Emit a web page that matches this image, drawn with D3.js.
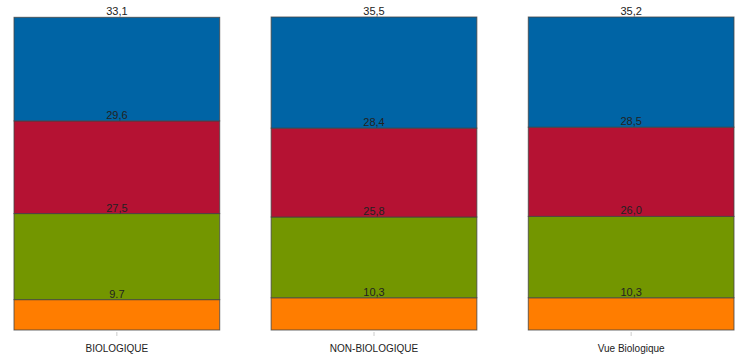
<!DOCTYPE html>
<html>
<head>
<meta charset="utf-8">
<script src="https://cdn.jsdelivr.net/npm/d3@7"></script>
<style>
  body { margin: 0; background: #fff; }
  text { font-family: "Liberation Sans", Arial, sans-serif; }
</style>
</head>
<body>
<svg id="chart" width="744" height="362"></svg>
<script>
const categories = ["BIOLOGIQUE", "NON-BIOLOGIQUE", "Vue Biologique"];
const seriesKeys = ["orange", "green", "red", "blue"];
const orangeValues = [9.7, 10.3, 10.3];
const greenValues = [27.5, 25.8, 26.0];
const redValues = [29.6, 28.4, 28.5];
const blueValues = [33.1, 35.5, 35.2];
const orangeLabels = ["9.7", "10,3", "10,3"];
const greenLabels = ["27,5", "25,8", "26,0"];
const redLabels = ["29,6", "28,4", "28,5"];
const blueLabels = ["33,1", "35,5", "35,2"];

const colors = { orange: "#ff7d00", green: "#739600", red: "#b51233", blue: "#0064a5" };
const valuesByKey = { orange: orangeValues, green: greenValues, red: redValues, blue: blueValues };
const labelsByKey = { orange: orangeLabels, green: greenLabels, red: redLabels, blue: blueLabels };

const rows = categories.map((c, i) => {
  const r = { category: c, i };
  seriesKeys.forEach(k => r[k] = valuesByKey[k][i]);
  return r;
});

const stacked = d3.stack().keys(seriesKeys)(rows);

const x = d3.scaleBand().domain(categories).range([14, 734]).paddingInner(0.2).paddingOuter(0);
const y = d3.scaleLinear().domain([0, 100]).range([330, 17]);

const svg = d3.select("#chart");

const layer = svg.append("g")
  .selectAll("g")
  .data(stacked)
  .join("g")
  .attr("fill", d => colors[d.key]);

layer.selectAll("rect")
  .data(d => d)
  .join("rect")
  .attr("x", d => x(d.data.category))
  .attr("y", d => y(d[1]))
  .attr("width", x.bandwidth())
  .attr("height", d => y(d[0]) - y(d[1]))
  .attr("stroke", "#444")
  .attr("stroke-opacity", 0.8)
  .attr("stroke-width", 1);

// value labels at the top of each segment
svg.append("g")
  .selectAll("g")
  .data(stacked)
  .join("g")
  .selectAll("text")
  .data(d => d.map(s => ({ s, key: d.key })))
  .join("text")
  .attr("x", d => x(d.s.data.category) + x.bandwidth() / 2)
  .attr("y", d => y(d.s[1]) - 2)
  .attr("text-anchor", "middle")
  .attr("font-size", 11)
  .attr("fill", "#222")
  .text(d => labelsByKey[d.key][d.s.data.i]);

// x axis
const xAxis = svg.append("g")
  .attr("transform", "translate(0,332)")
  .call(d3.axisBottom(x).tickSize(4).tickPadding(9));
xAxis.select(".domain").remove();
xAxis.selectAll(".tick line").attr("stroke", "#ccc");
xAxis.selectAll(".tick text")
  .attr("font-size", 10)
  .attr("fill", "#222")
  .style("font-family", "'Liberation Sans', Arial, sans-serif");
</script>
</body>
</html>
